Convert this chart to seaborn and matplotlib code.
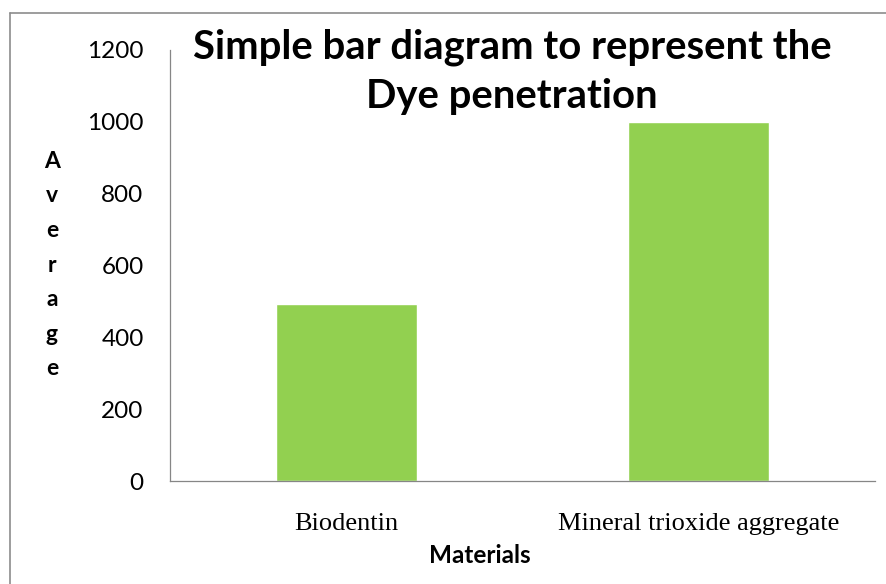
import matplotlib
matplotlib.use("Agg")
import matplotlib.pyplot as plt
import matplotlib.lines as mlines
import seaborn as sns
import pandas as pd

# data
materials = ["Biodentin", "Mineral trioxide aggregate"]
average = [493, 1000]
y_ticks = [0, 200, 400, 600, 800, 1000, 1200]

sns.set_style("white")
plt.rcParams["font.family"] = ["Lato", "DejaVu Sans"]
plt.rcParams["text.color"] = "black"

W, H = 886, 584
fig = plt.figure(figsize=(W / 100, H / 100), dpi=100)
ax = fig.add_axes([170 / W, 1 - 481 / H, (875 - 170) / W, (481 - 50) / H])

df = pd.DataFrame({"Materials": materials, "Average": average})
sns.barplot(data=df, x="Materials", y="Average", color="#92D050",
            saturation=1, width=0.4, ax=ax)

axis_col = "#868686"
ax.set_xlim(-0.5, len(materials) - 0.5)
ax.set_ylim(0, 1200)
ax.set_yticks(y_ticks)
ax.set_yticklabels([str(t) for t in y_ticks], fontsize=17.5, color="black")
ax.set_xticks(range(len(materials)))
ax.set_xticklabels(materials, fontsize=19, family="Liberation Serif", color="black")
ax.set_xticks([i - 0.5 for i in range(len(materials) + 1)], minor=True)
ax.tick_params(axis="x", which="major", length=0, pad=23)
ax.tick_params(axis="x", which="minor", length=5, width=0.9, color=axis_col, direction="out")
ax.tick_params(axis="y", length=5, width=0.9, color=axis_col, direction="out", pad=14)
ax.set_xlabel("")
ax.set_ylabel("")
for s in ["top", "right"]:
    ax.spines[s].set_visible(False)
for s in ["left", "bottom"]:
    ax.spines[s].set_color(axis_col)
    ax.spines[s].set_linewidth(0.9)

# title, two centred lines over the plot
fig.text(512 / W, 1 - 58 / H, "Simple bar diagram to represent the",
         ha="center", va="baseline", fontsize=28.8, fontweight="bold")
fig.text(512 / W, 1 - 108 / H, "Dye penetration",
         ha="center", va="baseline", fontsize=28.8, fontweight="bold")

# axis titles
fig.text(52 / W, 1 - 265 / H, "\n".join("Average"), ha="center", va="center",
         fontsize=16.5, fontweight="bold", linespacing=1.8)
fig.text(480 / W, 1 - 563 / H, "Materials", ha="center", va="baseline",
         fontsize=17.5, fontweight="bold")

# outer chart frame (only top and left edges are visible in the crop)
fig.add_artist(mlines.Line2D([9.5 / W, 1], [1 - 12.5 / H, 1 - 12.5 / H],
                             transform=fig.transFigure, color="#8c8c8c", lw=1.2))
fig.add_artist(mlines.Line2D([9.5 / W, 9.5 / W], [0, 1 - 12.5 / H],
                             transform=fig.transFigure, color="#8c8c8c", lw=1.2))

fig.savefig("out.png", dpi=100)
